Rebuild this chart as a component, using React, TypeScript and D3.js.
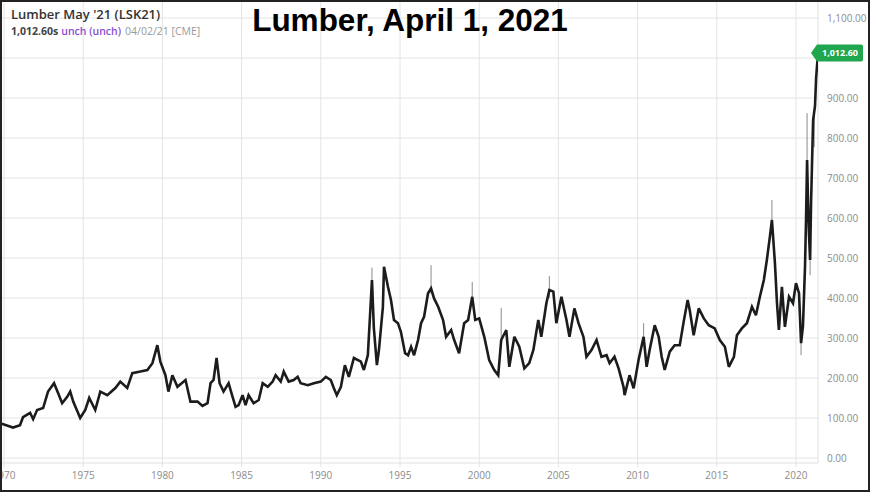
import React from "react";
import * as d3 from "d3";

// ---- data ----
const years: number[] = [
  1969.75, 1970.57, 1971.01, 1971.2, 1971.65, 1971.84, 1972.09, 1972.47, 1972.78, 1973.16,
  1973.42, 1973.67, 1973.99, 1974.18, 1974.37, 1974.81, 1975.13, 1975.38, 1975.76, 1976.08,
  1976.52, 1977.03, 1977.34, 1977.78, 1978.1, 1978.61, 1979.05, 1979.37, 1979.68, 1979.87,
  1980.19, 1980.38, 1980.63, 1980.95, 1981.46, 1981.77, 1982.22, 1982.53, 1982.85, 1983.04,
  1983.23, 1983.42, 1983.61, 1983.86, 1984.18, 1984.43, 1984.62, 1984.81, 1985.06, 1985.25,
  1985.44, 1985.76, 1986.08, 1986.33, 1986.65, 1986.96, 1987.15, 1987.47, 1987.66, 1987.97,
  1988.29, 1988.54, 1988.73, 1989.18, 1989.56, 1990.0, 1990.32, 1990.63, 1990.82, 1991.01,
  1991.27, 1991.52, 1991.77, 1992.09, 1992.53, 1992.72, 1992.97, 1993.23, 1993.35, 1993.54,
  1993.67, 1993.92, 1993.99, 1994.24, 1994.43, 1994.62, 1994.87, 1995.06, 1995.32, 1995.51,
  1995.7, 1995.89, 1996.14, 1996.33, 1996.52, 1996.77, 1996.96, 1997.15, 1997.41, 1997.72,
  1997.91, 1998.23, 1998.42, 1998.73, 1999.05, 1999.3, 1999.56, 1999.75, 2000.0, 2000.32,
  2000.63, 2000.95, 2001.2, 2001.39, 2001.71, 2001.9, 2002.22, 2002.53, 2002.85, 2003.16,
  2003.42, 2003.73, 2003.92, 2004.24, 2004.43, 2004.68, 2004.87, 2005.19, 2005.51, 2005.7,
  2006.01, 2006.27, 2006.58, 2006.77, 2007.09, 2007.41, 2007.72, 2008.04, 2008.23, 2008.54,
  2008.8, 2009.11, 2009.18, 2009.49, 2009.75, 2010.06, 2010.38, 2010.57, 2010.76, 2011.08,
  2011.33, 2011.52, 2011.71, 2012.03, 2012.34, 2012.66, 2012.91, 2013.16, 2013.29, 2013.54,
  2013.86, 2014.18, 2014.49, 2014.87, 2015.19, 2015.51, 2015.76, 2016.08, 2016.27, 2016.58,
  2016.9, 2017.22, 2017.47, 2017.72, 2017.97, 2018.16, 2018.35, 2018.48, 2018.67, 2018.8,
  2018.92, 2019.11, 2019.3, 2019.56, 2019.81, 2020.0, 2020.19, 2020.32, 2020.44, 2020.57,
  2020.63, 2020.7, 2020.76, 2020.82, 2020.89, 2020.95, 2021.08, 2021.2, 2021.27, 2021.39,
];

const prices: number[] = [
  87, 76, 82, 102, 113, 97, 120, 125, 166, 187,
  162, 137, 153, 166, 141, 100, 120, 150, 120, 166,
  157, 175, 191, 175, 212, 216, 220, 237, 282, 241,
  207, 166, 207, 178, 195, 141, 141, 130, 137, 187,
  195, 250, 187, 166, 187, 153, 128, 132, 157, 132,
  157, 137, 145, 187, 178, 191, 207, 191, 216, 191,
  195, 203, 187, 182, 187, 191, 203, 195, 175, 157,
  178, 232, 203, 250, 241, 220, 257, 445, 325, 232,
  270, 378, 478, 428, 395, 345, 337, 315, 262, 257,
  278, 257, 295, 337, 353, 412, 424, 399, 378, 345,
  303, 320, 295, 262, 337, 345, 403, 345, 349, 303,
  245, 220, 207, 295, 320, 228, 303, 278, 224, 237,
  270, 345, 303, 387, 420, 416, 337, 403, 345, 303,
  374, 337, 303, 253, 270, 295, 253, 257, 237, 253,
  224, 178, 157, 207, 174, 245, 303, 228, 270, 332,
  303, 253, 220, 266, 282, 282, 341, 395, 370, 307,
  374, 349, 332, 324, 295, 278, 228, 253, 307, 324,
  337, 378, 357, 403, 445, 495, 553, 595, 487, 387,
  320, 428, 328, 403, 387, 437, 412, 287, 330, 480,
  590, 745, 640, 560, 495, 637, 845, 880, 950, 1012.6,
];

// a few visible high/low wicks
const wickYears: number[] = [1993.23, 1996.96, 1999.56, 2001.39, 2004.43, 2010.38, 2018.48, 2020.32, 2020.7, 2020.89, 2021.15];
const wickLows: number[] = [420, 410, 380, 290, 400, 300, 560, 257, 600, 457, 777];
const wickHighs: number[] = [476, 482, 440, 375, 455, 337, 645, 300, 862, 520, 870];

const xTickYears: number[] = [1970, 1975, 1980, 1985, 1990, 1995, 2000, 2005, 2010, 2015, 2020];
const yTickValues: number[] = [0, 100, 200, 300, 400, 500, 600, 700, 800, 900, 1000, 1100];
const lastPrice = 1012.6;

const W = 870;
const H = 492;
const plotRight = 818;
const plotBottom = 463;

export default function App() {
  const x = d3.scaleLinear().domain([1970, 2020]).range([4, 796]);
  const y = d3.scaleLinear().domain([0, 1100]).range([458, 18]);
  const pts: [number, number][] = years.map((yr, i) => [yr, prices[i]]);
  const line = d3
    .line<[number, number]>()
    .x((d) => x(d[0]))
    .y((d) => y(d[1]))
    .curve(d3.curveLinear);
  const yFmt = d3.format(",.2f");
  const tagY = y(lastPrice);
  const font = "'Open Sans', 'DejaVu Sans', sans-serif";

  return (
    <svg
      width={W}
      height={H}
      style={{ position: "absolute", left: 0, top: 0, background: "#fff" }}
    >
      <defs>
        <clipPath id="plotClip">
          <rect x={0} y={0} width={plotRight} height={plotBottom} />
        </clipPath>
      </defs>
      <rect x={0} y={0} width={W} height={H} fill="#fff" />
      {/* grid */}
      {xTickYears.map((yr) => (
        <line key={"vx" + yr} x1={x(yr)} x2={x(yr)} y1={0} y2={467} stroke="#e4e4e4" strokeWidth={1} />
      ))}
      {yTickValues.map((v) => (
        <line key={"hy" + v} x1={0} x2={plotRight} y1={y(v)} y2={y(v)} stroke="#e4e4e4" strokeWidth={1} />
      ))}
      <line x1={plotRight} x2={plotRight} y1={0} y2={plotBottom} stroke="#e0e0e0" strokeWidth={1} />
      <line x1={0} x2={plotRight} y1={plotBottom} y2={plotBottom} stroke="#e0e0e0" strokeWidth={1} />

      {/* series */}
      <g clipPath="url(#plotClip)">
        {wickYears.map((yr, i) => (
          <line
            key={"w" + i}
            x1={x(yr)}
            x2={x(yr)}
            y1={y(wickLows[i])}
            y2={y(wickHighs[i])}
            stroke="#8a8a8a"
            strokeWidth={1}
          />
        ))}
        <path d={line(pts) || ""} fill="none" stroke="#1a1d1b" strokeWidth={2.6} strokeLinejoin="miter" strokeMiterlimit={3} />
      </g>
      <circle cx={x(years[years.length - 1])} cy={y(lastPrice) - 3} r={1} fill="#2db35d" />

      {/* y axis labels */}
      {yTickValues
        .filter((v) => v !== 1000)
        .map((v) => (
          <text key={"yl" + v} x={827} y={y(v)} dy="0.35em" fontSize={10} fill="#8c8c8c" fontFamily={font}>
            {yFmt(v)}
          </text>
        ))}
      {/* x axis labels */}
      {xTickYears.map((yr) => (
        <text key={"xl" + yr} x={x(yr)} y={478.5} textAnchor="middle" fontSize={10} fill="#8c8c8c" fontFamily={font}>
          {yr}
        </text>
      ))}

      {/* last price tag */}
      <path
        d={`M811,${tagY} L817,${tagY - 8.5} H861 Q863,${tagY - 8.5} 863,${tagY - 6.5} V${tagY + 6.5} Q863,${tagY + 8.5} 861,${tagY + 8.5} H817 Z`}
        fill="#1fa64f"
      />
      <text x={840} y={tagY} dy="0.35em" textAnchor="middle" fontSize={9} fontWeight={700} fill="#fff" fontFamily={font}>
        {d3.format(",.2f")(lastPrice)}
      </text>

      {/* header */}
      <text x={11} y={19} fontSize={13} fontWeight={600} fill="#333" fontFamily={font}>
        Lumber May '21 (LSK21)
      </text>
      <text x={11} y={35} fontSize={10.5} fontFamily={font}>
        <tspan fontWeight={700} fill="#444">1,012.60s</tspan>
        <tspan fontWeight={600} fill="#8a4fd0" dx={3}>unch (unch)</tspan>
        <tspan fill="#999" dx={4}>04/02/21 [CME]</tspan>
      </text>

      {/* title */}
      <text x={410} y={31} textAnchor="middle" fontSize={31.5} fontWeight={700} fill="#000" fontFamily="'Liberation Sans', Arial, sans-serif">
        Lumber, April 1, 2021
      </text>

      {/* outer frame */}
      <rect x={1} y={1} width={W - 2} height={H - 2} fill="none" stroke="#222" strokeWidth={2} />
    </svg>
  );
}
